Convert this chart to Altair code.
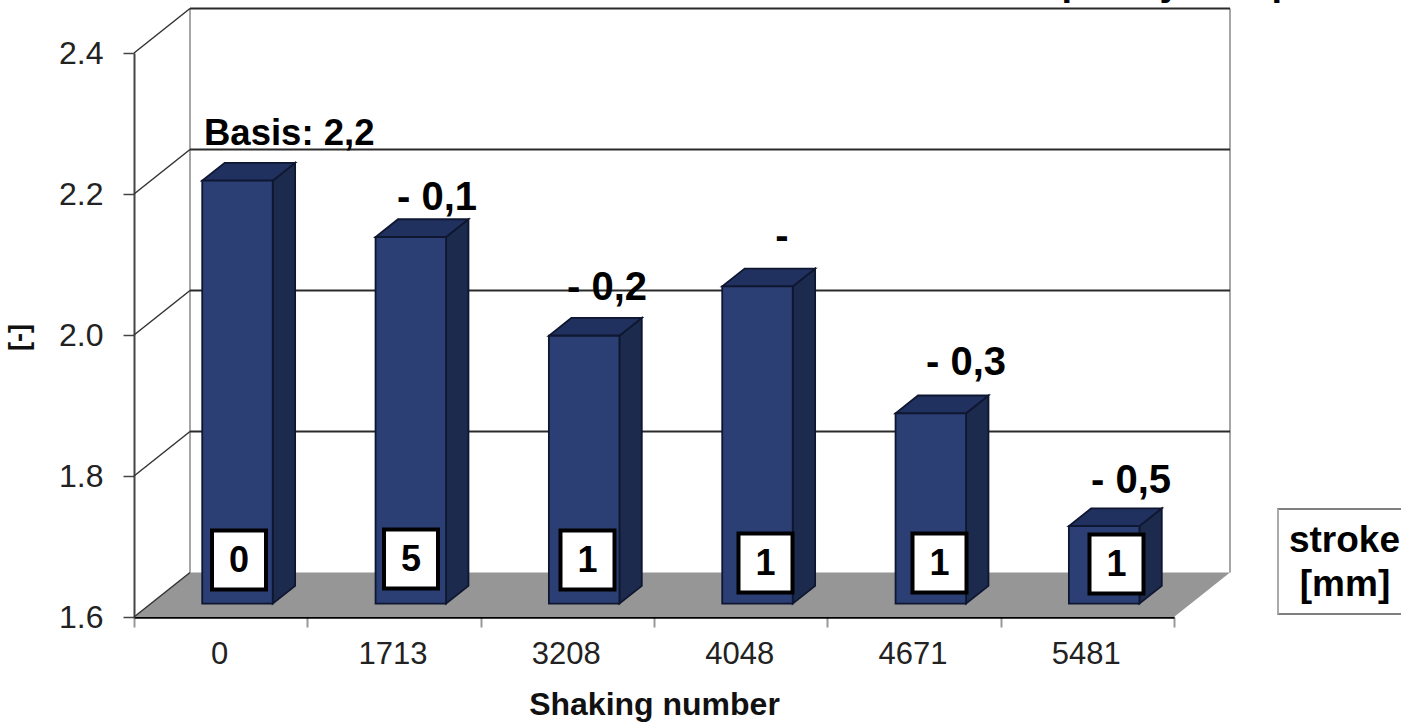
import json
import altair as alt
import pandas as pd

# Chart data
shaking_numbers = ["0", "1713", "3208", "4048", "4671", "5481"]
bar_values = [2.2, 2.12, 1.98, 2.05, 1.87, 1.71]
delta_labels = ["Basis: 2,2", "- 0,1", "- 0,2", "-", "- 0,3", "- 0,5"]
stroke_labels = ["0", "5", "1", "1", "1", "1"]
y_ticks = [1.6, 1.8, 2.0, 2.2, 2.4]
heading_glyphs = ["p", "y", "p"]

# Plot geometry
PLOT_W, PLOT_H = 1040, 564
LEFT, TOP = 134, 53
RIGHT, BOTTOM = 1401 - LEFT - PLOT_W, 722 - TOP - PLOT_H
BAND = PLOT_W / 6
UNIT = PLOT_H / 0.8
YMIN, YMAX = 1.6, 2.4
DX = 56 / BAND      # depth of the box in category units
DY = 44.5 / UNIT    # depth of the box in value units
BAR_W = 70.5 / BAND
D0, D1 = 0.30, 0.70  # front and back of the bars inside the depth

FONT = "Liberation Sans"
FRONT, SIDE, ROOF, EDGE = "#2b3f75", "#1b2a4d", "#20305f", "#0f1730"


def X(px):
    return (px - LEFT) / BAND


def Y(py):
    return YMIN + (TOP + PLOT_H - py) / UNIT


xs = alt.Scale(domain=[0, 6], range=[0, PLOT_W], nice=False, zero=False)
ys = alt.Scale(domain=[YMIN, YMAX], range=[PLOT_H, 0], nice=False, zero=False)

tick_values = [i / 2 for i in range(13)]
x_axis = alt.Axis(
    values=tick_values, grid=False,
    labelExpr="datum.value % 1 ? " + json.dumps(shaking_numbers) + "[floor(datum.value)] : ''",
    labelFont=FONT, labelFontSize=31, labelColor="#222222", labelPadding=12, labelOffset=-1.5,
    labelOverlap=False, labelBound=False, labelFlush=False,
    domainColor="#000000", domainWidth=2.5,
    tickColor="#999999", tickWidth=2, tickSize=10,
    tickOpacity={"condition": {"test": "datum.value % 1 === 0", "value": 1}, "value": 0},
    titleFont=FONT, titleFontSize=32, titleFontWeight="bold", titleColor="#111111",
    titlePadding=20,
)
y_axis = alt.Axis(
    values=y_ticks, format=".1f", grid=False,
    labelFont=FONT, labelFontSize=32, labelColor="#222222", labelPadding=20,
    domainColor="#444444", domainWidth=2,
    tickColor="#444444", tickWidth=1.5, tickSize=11,
    titleFont=FONT, titleFontSize=27, titleFontWeight="bold", titleColor="#111111",
    titleX=-101, titleY=284,
)


def qx(field):
    return alt.X(field, type="quantitative", scale=xs, axis=x_axis, title="Shaking number")


def qy(field):
    return alt.Y(field, type="quantitative", scale=ys, axis=y_axis, title="[-]", stack=None)


def polyline(rows, color, width):
    """Draw several polylines: rows are (group, order, x, y)."""
    df = pd.DataFrame(rows, columns=["g", "o", "x", "y"])
    return alt.Chart(df).mark_line(color=color, strokeWidth=width, clip=False).encode(
        x=qx("x"), y=qy("y"), detail="g:N", order="o:Q"
    )


def texts(rows, size, bold=True, color="#000000", align="center"):
    df = pd.DataFrame(rows, columns=["x", "y", "t"])
    return alt.Chart(df).mark_text(
        font=FONT, fontSize=size, fontWeight="bold" if bold else "normal",
        color=color, align=align, baseline="alphabetic", clip=False,
    ).encode(x=qx("x"), y=qy("y"), text="t:N")


# Floor of the box
floor_df = pd.DataFrame([
    {"y": YMIN, "x": 0.0, "x2": 6.0},
    {"y": YMIN + DY, "x": DX, "x2": 6 + DX},
])
floor = alt.Chart(floor_df).mark_area(orient="horizontal", color="#969696", clip=False).encode(
    y=qy("y"), x=qx("x"), x2="x2:Q"
)

# Back wall edges, grid lines and the slanted lines of the side wall
grey_edges = polyline(
    [("l", 0, DX, YMIN + DY), ("l", 1, DX, YMAX + DY),
     ("r", 0, 6 + DX, YMIN + DY), ("r", 1, 6 + DX, YMAX + DY)],
    "#a6a6a6", 2,
)
grid_rows, slant_rows = [], []
for v in y_ticks:
    slant_rows += [(v, 0, 0.0, v), (v, 1, DX, v + DY)]
    if v > YMIN:
        grid_rows += [(v, 0, DX, v + DY), (v, 1, 6 + DX, v + DY)]
grid = polyline(grid_rows, "#2b2b2b", 2)
slants = polyline(slant_rows, "#333333", 1.5)

# Bars: front, side and top face of every column
front_rows, side_rows, roof_rows = [], [], []
for i, v in enumerate(bar_values):
    x0 = i + 0.5 - BAR_W / 2
    x1 = x0 + BAR_W
    front_rows.append({"x": x0 + D0 * DX, "x2": x1 + D0 * DX,
                       "y": YMIN + D0 * DY, "y2": v + D0 * DY})
    side_rows += [
        {"g": i, "x": x1 + D0 * DX, "y": YMIN + D0 * DY, "y2": v + D0 * DY},
        {"g": i, "x": x1 + D1 * DX, "y": YMIN + D1 * DY, "y2": v + D1 * DY},
    ]
    roof_rows += [
        {"g": i, "y": v + D0 * DY, "x": x0 + D0 * DX, "x2": x1 + D0 * DX},
        {"g": i, "y": v + D1 * DY, "x": x0 + D1 * DX, "x2": x1 + D1 * DX},
    ]

sides = alt.Chart(pd.DataFrame(side_rows)).mark_area(
    orient="vertical", color=SIDE, stroke=EDGE, strokeWidth=1.8, clip=False
).encode(x=qx("x"), y=qy("y"), y2="y2:Q", detail="g:N")
roofs = alt.Chart(pd.DataFrame(roof_rows)).mark_area(
    orient="horizontal", color=ROOF, stroke=EDGE, strokeWidth=1.8, clip=False
).encode(y=qy("y"), x=qx("x"), x2="x2:Q", detail="g:N")
fronts = alt.Chart(pd.DataFrame(front_rows)).mark_rect(
    color=FRONT, stroke=EDGE, strokeWidth=1.8, clip=False
).encode(x=qx("x"), x2="x2:Q", y=qy("y"), y2="y2:Q")

# White boxes holding the stroke of each column
box_centres = [(239, 560), (411, 559), (587.5, 560), (765.5, 563), (939.5, 563), (1116.5, 564)]
box_df = pd.DataFrame([
    {"x": X(cx - 27), "x2": X(cx + 27), "y": Y(cy + 29.5), "y2": Y(cy - 29.5)}
    for cx, cy in box_centres
])
boxes = alt.Chart(box_df).mark_rect(
    color="#ffffff", stroke="#000000", strokeWidth=4, clip=False
).encode(x=qx("x"), x2="x2:Q", y=qy("y"), y2="y2:Q")
box_text = texts(
    [(X(cx), Y(cy + 12), t) for (cx, cy), t in zip(box_centres, stroke_labels)], 36
)

# Annotations above the columns
basis = texts([(X(204), Y(145), delta_labels[0])], 36.5, align="left")
delta_pos = [(437, 210), (607, 300), (782, 249), (966, 375), (1131, 493)]
deltas = texts([(X(px), Y(py), t) for (px, py), t in zip(delta_pos, delta_labels[1:])], 40)

# Heading that runs past the top edge of the page
heading = texts(
    [(X(px), Y(-5), t) for px, t in zip([1073, 1170, 1283], heading_glyphs)], 38
)

# Stroke caption to the right of the box
caption_fill = alt.Chart(pd.DataFrame([{"x": X(1278), "x2": X(1420), "y": Y(614), "y2": Y(509)}])).mark_rect(
    color="#ffffff", stroke="#555555", strokeWidth=1.5, clip=False
).encode(x=qx("x"), x2="x2:Q", y=qy("y"), y2="y2:Q")
caption_edge = polyline([("c", 0, X(1278), Y(509)), ("c", 1, X(1278), Y(614))], "#aaaaaa", 2)
caption = texts(
    [(X(1344.5), Y(552), "stroke"), (X(1345), Y(596), "[mm]")], 37
)

chart = alt.layer(
    grey_edges, floor, grid, slants,
    sides, roofs, fronts, boxes, box_text, basis, deltas, heading,
    caption_fill, caption_edge, caption,
).properties(
    width=PLOT_W, height=PLOT_H,
    padding={"left": LEFT, "top": TOP, "right": RIGHT, "bottom": BOTTOM},
    autosize=alt.AutoSizeParams(type="none"),
    background="#ffffff",
).configure_view(stroke=None)

chart.save("out.html", embed_options={"renderer": "svg", "actions": False})
